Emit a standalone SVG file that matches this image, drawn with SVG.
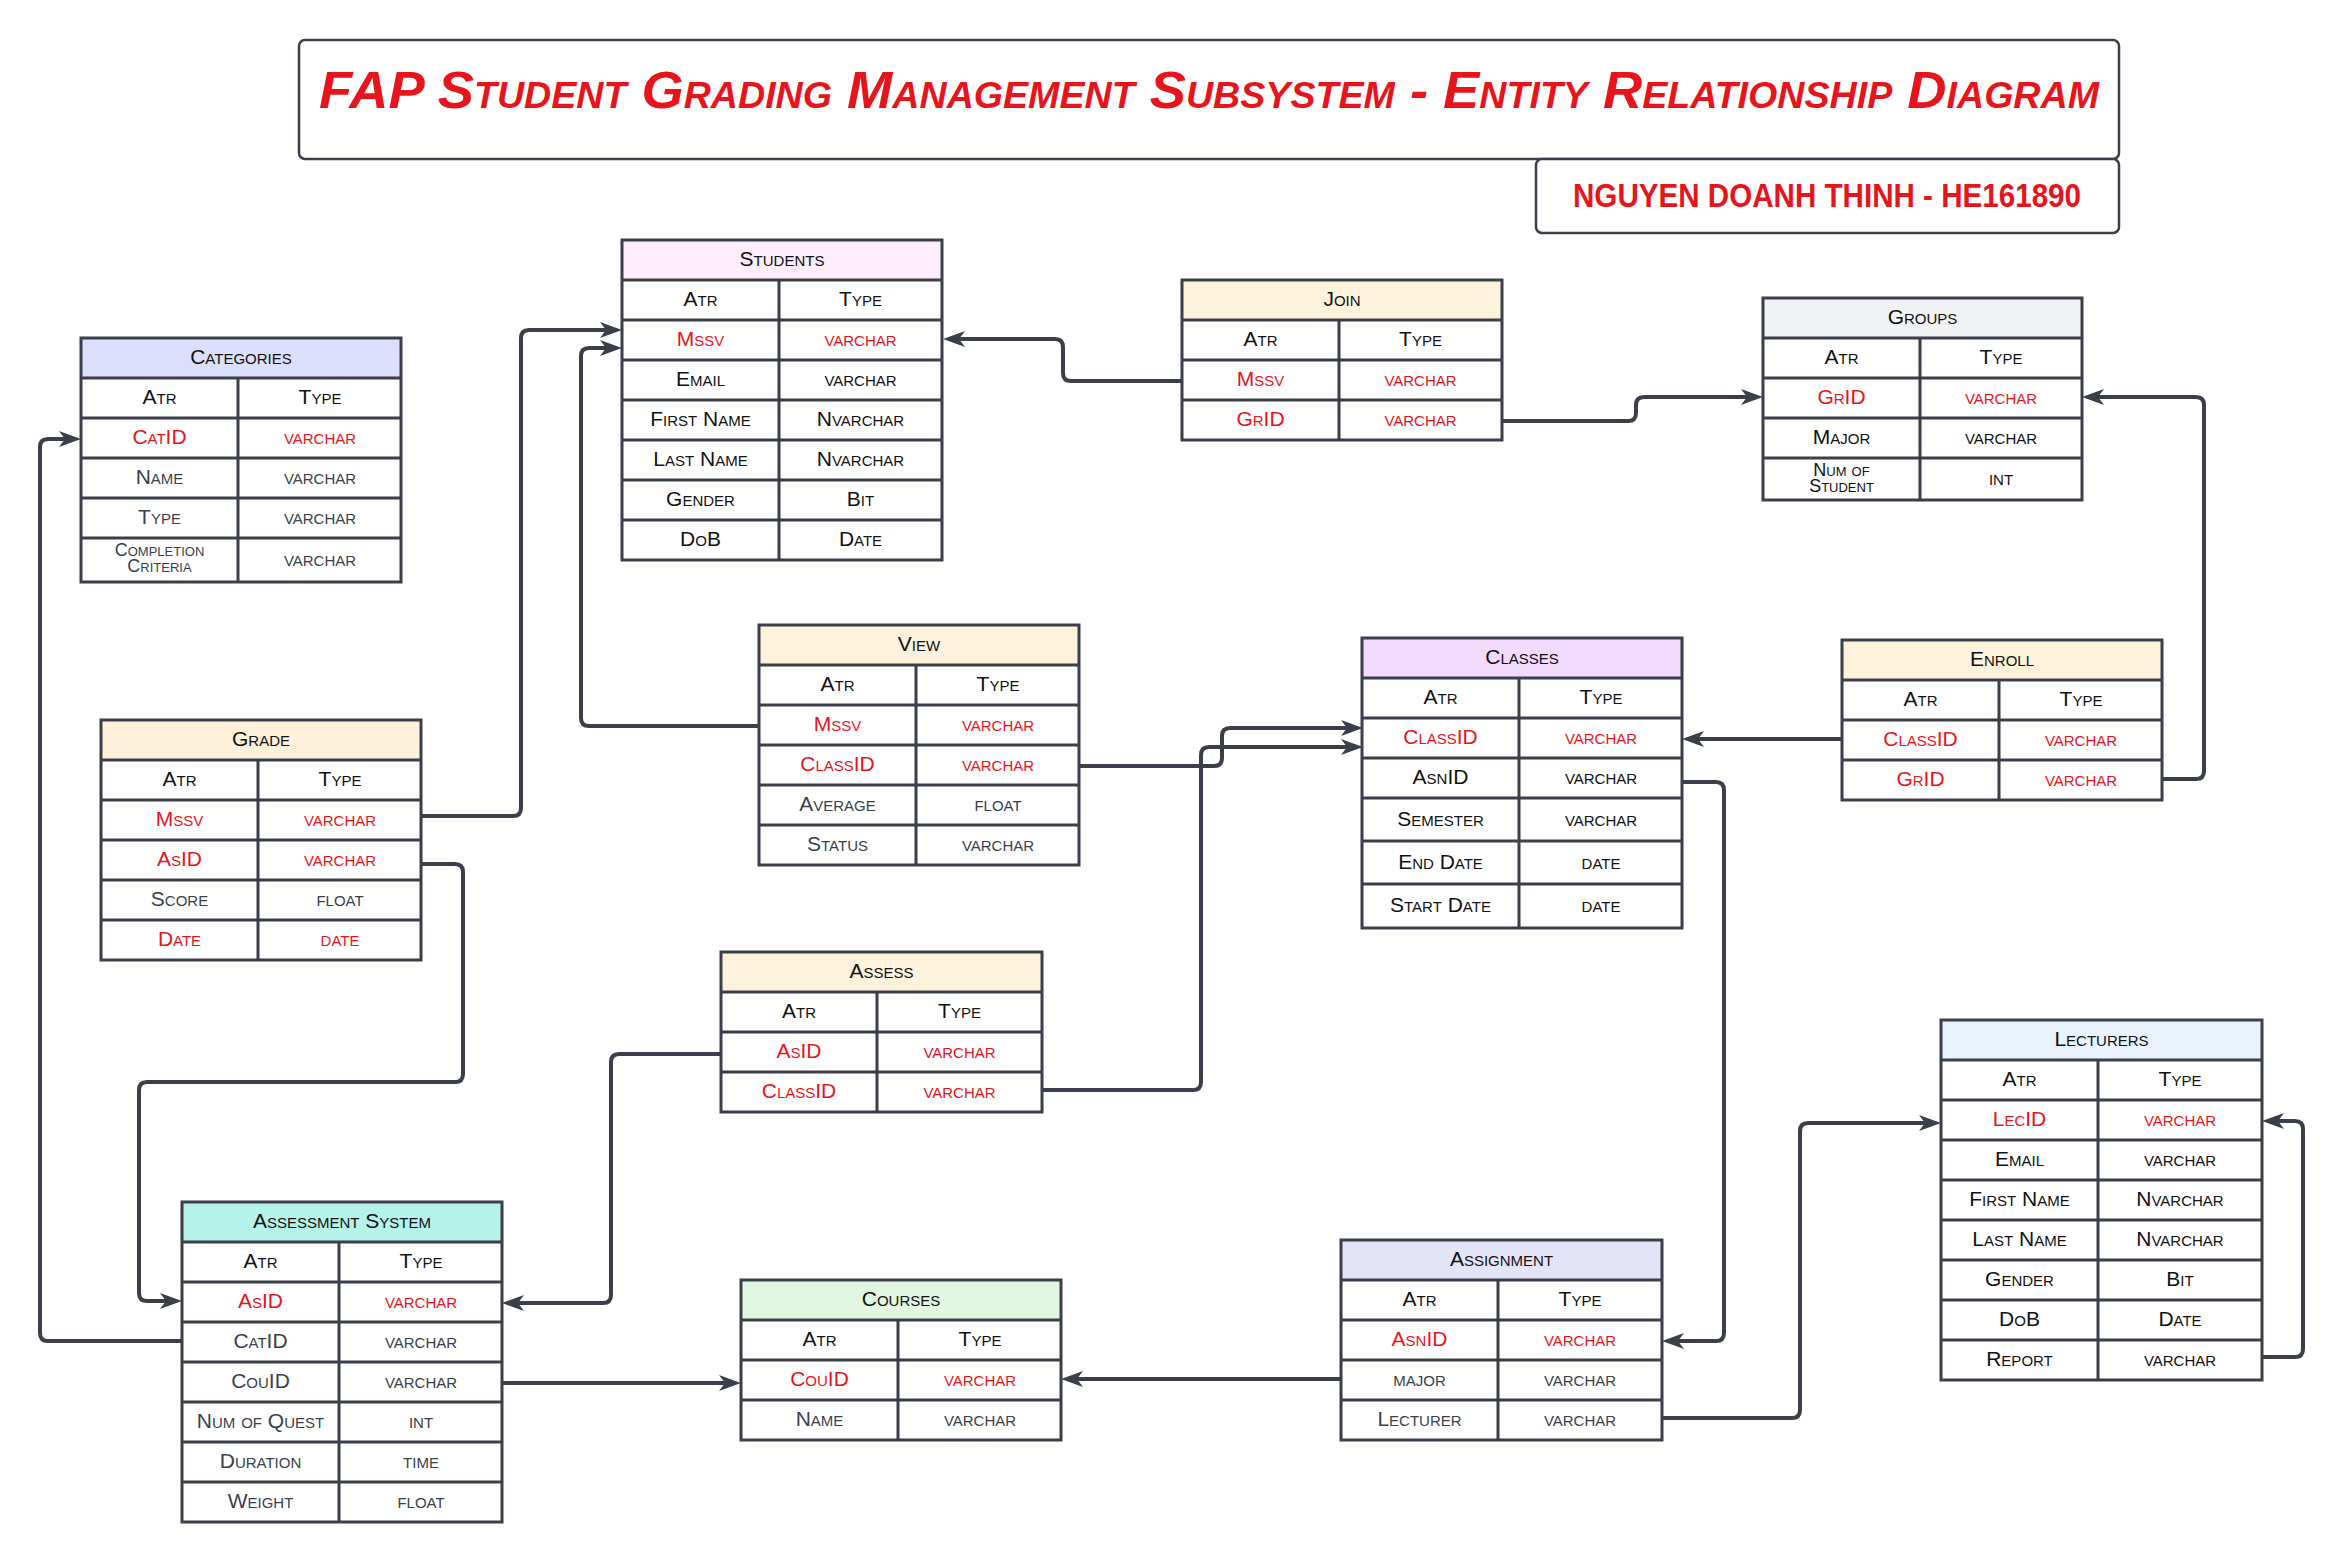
<svg xmlns="http://www.w3.org/2000/svg" width="2343" height="1562" viewBox="0 0 2343 1562">
<style>
.t{font-family:"Liberation Sans",Arial,sans-serif;font-variant:small-caps;font-size:21px;text-anchor:middle;transform:translateY(-1px)}
.s{font-size:18px}
.k{fill:#e8141c}
.b{fill:#111111}
.g{fill:#3a3f4a}
.box{fill:none;stroke:#3a3f4a;stroke-width:3}
.grid{fill:none;stroke:#3a3f4a;stroke-width:3}
.ln{fill:none;stroke:#3a3f4a;stroke-width:4;stroke-linejoin:round}
.ttl{fill:#fff;stroke:#3a3f4a;stroke-width:2.5}
</style>
<defs>
<marker id="arr" viewBox="0 0 22 16" markerWidth="22" markerHeight="16" refX="6" refY="8" orient="auto" markerUnits="userSpaceOnUse">
<path d="M0,0 L22,8 L0,16 L6,8 z" fill="#3a3f4a"/>
</marker>
</defs>
<rect width="2343" height="1562" fill="#ffffff"/>

<g id="title">
<rect x="299" y="40" width="1820" height="119" rx="6" class="ttl"/>
<text x="1209" y="108" font-family="'Liberation Sans',Arial,sans-serif" font-size="52" font-style="italic" font-weight="bold" font-variant="small-caps" fill="#e8141c" text-anchor="middle" textLength="1780" lengthAdjust="spacingAndGlyphs">FAP Student Grading Management Subsystem - Entity Relationship Diagram</text>
</g>
<g id="subtitle">
<rect x="1536" y="159" width="583" height="74" rx="6" class="ttl"/>
<text x="1827" y="207" font-family="'Liberation Sans',Arial,sans-serif" font-size="34" font-weight="bold" fill="#e8141c" text-anchor="middle" textLength="508" lengthAdjust="spacingAndGlyphs">NGUYEN DOANH THINH - HE161890</text>
</g>

<g id="connectors">
<path class="ln" marker-end="url(#arr)" d="M421,816 H513 Q521,816 521,808 V338 Q521,330 529,330 H606"/>
<path class="ln" marker-end="url(#arr)" d="M759,726 H589 Q581,726 581,718 V356 Q581,348 589,348 H606"/>
<path class="ln" marker-end="url(#arr)" d="M1182,381 H1071 Q1063,381 1063,373 V347 Q1063,339 1055,339 H959"/>
<path class="ln" marker-end="url(#arr)" d="M1502,421 H1628 Q1636,421 1636,413 V405 Q1636,397 1644,397 H1747"/>
<path class="ln" marker-end="url(#arr)" d="M2162,779 H2196 Q2204,779 2204,771 V405 Q2204,397 2196,397 H2098"/>
<path class="ln" marker-end="url(#arr)" d="M1842,739 H1698"/>
<path class="ln" marker-end="url(#arr)" d="M1079,766 H1214 Q1222,766 1222,758 V736 Q1222,728 1230,728 H1347"/>
<path class="ln" marker-end="url(#arr)" d="M1042,1090 H1193 Q1201,1090 1201,1082 V755 Q1201,747 1209,747 H1347"/>
<path class="ln" marker-end="url(#arr)" d="M1682,782 H1716 Q1724,782 1724,790 V1333 Q1724,1341 1716,1341 H1678"/>
<path class="ln" marker-end="url(#arr)" d="M1341,1379 H1077"/>
<path class="ln" marker-end="url(#arr)" d="M1662,1418 H1792 Q1800,1418 1800,1410 V1131 Q1800,1123 1808,1123 H1925"/>
<path class="ln" marker-end="url(#arr)" d="M2262,1357 H2295 Q2303,1357 2303,1349 V1129 Q2303,1121 2295,1121 H2278"/>
<path class="ln" marker-end="url(#arr)" d="M421,864 H455 Q463,864 463,872 V1074 Q463,1082 455,1082 H147 Q139,1082 139,1090 V1293 Q139,1301 147,1301 H166"/>
<path class="ln" marker-end="url(#arr)" d="M182,1341 H48 Q40,1341 40,1333 V447 Q40,439 48,439 H65"/>
<path class="ln" marker-end="url(#arr)" d="M721,1054 H619 Q611,1054 611,1062 V1295 Q611,1303 603,1303 H518"/>
<path class="ln" marker-end="url(#arr)" d="M502,1383 H725"/>
</g>

<g id="categories">
<rect x="81" y="338" width="320" height="244" fill="#fff"/>
<rect x="81" y="338" width="320" height="40" fill="#dcdffb"/>
<path class="grid" d="M81,378H401M81,418H401M81,458H401M81,498H401M81,538H401M238,378V582"/>
<rect x="81" y="338" width="320" height="244" class="box"/>
<text class="t b" x="241" y="365">Categories</text>
<text class="t b" x="159.5" y="405">Atr</text><text class="t b" x="320" y="405">Type</text>
<text class="t k" x="159.5" y="445">CatID</text><text class="t k" x="320" y="445">varchar</text>
<text class="t g" x="159.5" y="485">Name</text><text class="t g" x="320" y="485">varchar</text>
<text class="t g" x="159.5" y="525">Type</text><text class="t g" x="320" y="525">varchar</text>
<text class="t g s" x="159.5" y="557">Completion</text><text class="t g s" x="159.5" y="573">Criteria</text><text class="t g" x="320" y="567">varchar</text>
</g>

<g id="students">
<rect x="622" y="240" width="320" height="320" fill="#fff"/>
<rect x="622" y="240" width="320" height="40" fill="#fdeefa"/>
<path class="grid" d="M622,280H942M622,320H942M622,360H942M622,400H942M622,440H942M622,480H942M622,520H942M779,280V560"/>
<rect x="622" y="240" width="320" height="320" class="box"/>
<text class="t b" x="782" y="267">Students</text>
<text class="t b" x="700.5" y="307">Atr</text><text class="t b" x="860.5" y="307">Type</text>
<text class="t k" x="700.5" y="347">Mssv</text><text class="t k" x="860.5" y="347">varchar</text>
<text class="t b" x="700.5" y="387">Email</text><text class="t b" x="860.5" y="387">varchar</text>
<text class="t b" x="700.5" y="427">First Name</text><text class="t b" x="860.5" y="427">Nvarchar</text>
<text class="t b" x="700.5" y="467">Last Name</text><text class="t b" x="860.5" y="467">Nvarchar</text>
<text class="t b" x="700.5" y="507">Gender</text><text class="t b" x="860.5" y="507">Bit</text>
<text class="t b" x="700.5" y="547">DoB</text><text class="t b" x="860.5" y="547">Date</text>
</g>

<g id="join">
<rect x="1182" y="280" width="320" height="160" fill="#fff"/>
<rect x="1182" y="280" width="320" height="40" fill="#fdf3dc"/>
<path class="grid" d="M1182,320H1502M1182,360H1502M1182,400H1502M1339,320V440"/>
<rect x="1182" y="280" width="320" height="160" class="box"/>
<text class="t b" x="1342" y="307">Join</text>
<text class="t b" x="1260.5" y="347">Atr</text><text class="t b" x="1420.5" y="347">Type</text>
<text class="t k" x="1260.5" y="387">Mssv</text><text class="t k" x="1420.5" y="387">varchar</text>
<text class="t k" x="1260.5" y="427">GrID</text><text class="t k" x="1420.5" y="427">varchar</text>
</g>

<g id="groups">
<rect x="1763" y="298" width="319" height="202" fill="#fff"/>
<rect x="1763" y="298" width="319" height="40" fill="#f1f2f4"/>
<path class="grid" d="M1763,338H2082M1763,378H2082M1763,418H2082M1763,458H2082M1920,338V500"/>
<rect x="1763" y="298" width="319" height="202" class="box"/>
<text class="t b" x="1922.5" y="325">Groups</text>
<text class="t b" x="1841.5" y="365">Atr</text><text class="t b" x="2001" y="365">Type</text>
<text class="t k" x="1841.5" y="405">GrID</text><text class="t k" x="2001" y="405">varchar</text>
<text class="t b" x="1841.5" y="445">Major</text><text class="t b" x="2001" y="445">varchar</text>
<text class="t b s" x="1841.5" y="477">Num of</text><text class="t b s" x="1841.5" y="493">Student</text><text class="t b" x="2001" y="486">int</text>
</g>

<g id="grade">
<rect x="101" y="720" width="320" height="240" fill="#fff"/>
<rect x="101" y="720" width="320" height="40" fill="#fdf1dc"/>
<path class="grid" d="M101,760H421M101,800H421M101,840H421M101,880H421M101,920H421M258,760V960"/>
<rect x="101" y="720" width="320" height="240" class="box"/>
<text class="t b" x="261" y="747">Grade</text>
<text class="t b" x="179.5" y="787">Atr</text><text class="t b" x="340" y="787">Type</text>
<text class="t k" x="179.5" y="827">Mssv</text><text class="t k" x="340" y="827">varchar</text>
<text class="t k" x="179.5" y="867">AsID</text><text class="t k" x="340" y="867">varchar</text>
<text class="t g" x="179.5" y="907">Score</text><text class="t g" x="340" y="907">float</text>
<text class="t k" x="179.5" y="947">Date</text><text class="t k" x="340" y="947">date</text>
</g>

<g id="view">
<rect x="759" y="625" width="320" height="240" fill="#fff"/>
<rect x="759" y="625" width="320" height="40" fill="#fdf3dc"/>
<path class="grid" d="M759,665H1079M759,705H1079M759,745H1079M759,785H1079M759,825H1079M916,665V865"/>
<rect x="759" y="625" width="320" height="240" class="box"/>
<text class="t b" x="919" y="652">View</text>
<text class="t b" x="837.5" y="692">Atr</text><text class="t b" x="998" y="692">Type</text>
<text class="t k" x="837.5" y="732">Mssv</text><text class="t k" x="998" y="732">varchar</text>
<text class="t k" x="837.5" y="772">ClassID</text><text class="t k" x="998" y="772">varchar</text>
<text class="t g" x="837.5" y="812">Average</text><text class="t g" x="998" y="812">float</text>
<text class="t g" x="837.5" y="852">Status</text><text class="t g" x="998" y="852">varchar</text>
</g>

<g id="classes">
<rect x="1362" y="638" width="320" height="290" fill="#fff"/>
<rect x="1362" y="638" width="320" height="40" fill="#f2dafc"/>
<path class="grid" d="M1362,678H1682M1362,718H1682M1362,758H1682M1362,798H1682M1362,841H1682M1362,884H1682M1519,678V928"/>
<rect x="1362" y="638" width="320" height="290" class="box"/>
<text class="t b" x="1522" y="665">Classes</text>
<text class="t b" x="1440.5" y="705">Atr</text><text class="t b" x="1601" y="705">Type</text>
<text class="t k" x="1440.5" y="745">ClassID</text><text class="t k" x="1601" y="745">varchar</text>
<text class="t b" x="1440.5" y="785">AsnID</text><text class="t b" x="1601" y="785">varchar</text>
<text class="t b" x="1440.5" y="827">Semester</text><text class="t b" x="1601" y="827">varchar</text>
<text class="t b" x="1440.5" y="870">End Date</text><text class="t b" x="1601" y="870">date</text>
<text class="t b" x="1440.5" y="913">Start Date</text><text class="t b" x="1601" y="913">date</text>
</g>

<g id="enroll">
<rect x="1842" y="640" width="320" height="160" fill="#fff"/>
<rect x="1842" y="640" width="320" height="40" fill="#fdf3dc"/>
<path class="grid" d="M1842,680H2162M1842,720H2162M1842,760H2162M1999,680V800"/>
<rect x="1842" y="640" width="320" height="160" class="box"/>
<text class="t b" x="2002" y="667">Enroll</text>
<text class="t b" x="1920.5" y="707">Atr</text><text class="t b" x="2081" y="707">Type</text>
<text class="t k" x="1920.5" y="747">ClassID</text><text class="t k" x="2081" y="747">varchar</text>
<text class="t k" x="1920.5" y="787">GrID</text><text class="t k" x="2081" y="787">varchar</text>
</g>

<g id="assess">
<rect x="721" y="952" width="321" height="160" fill="#fff"/>
<rect x="721" y="952" width="321" height="40" fill="#fdf3dc"/>
<path class="grid" d="M721,992H1042M721,1032H1042M721,1072H1042M877,992V1112"/>
<rect x="721" y="952" width="321" height="160" class="box"/>
<text class="t b" x="881.5" y="979">Assess</text>
<text class="t b" x="799" y="1019">Atr</text><text class="t b" x="959.5" y="1019">Type</text>
<text class="t k" x="799" y="1059">AsID</text><text class="t k" x="959.5" y="1059">varchar</text>
<text class="t k" x="799" y="1099">ClassID</text><text class="t k" x="959.5" y="1099">varchar</text>
</g>

<g id="lecturers">
<rect x="1941" y="1020" width="321" height="360" fill="#fff"/>
<rect x="1941" y="1020" width="321" height="40" fill="#eaf3fd"/>
<path class="grid" d="M1941,1060H2262M1941,1100H2262M1941,1140H2262M1941,1180H2262M1941,1220H2262M1941,1260H2262M1941,1300H2262M1941,1340H2262M2098,1060V1380"/>
<rect x="1941" y="1020" width="321" height="360" class="box"/>
<text class="t b" x="2101.5" y="1047">Lecturers</text>
<text class="t b" x="2019.5" y="1087">Atr</text><text class="t b" x="2180" y="1087">Type</text>
<text class="t k" x="2019.5" y="1127">LecID</text><text class="t k" x="2180" y="1127">varchar</text>
<text class="t b" x="2019.5" y="1167">Email</text><text class="t b" x="2180" y="1167">varchar</text>
<text class="t b" x="2019.5" y="1207">First Name</text><text class="t b" x="2180" y="1207">Nvarchar</text>
<text class="t b" x="2019.5" y="1247">Last Name</text><text class="t b" x="2180" y="1247">Nvarchar</text>
<text class="t b" x="2019.5" y="1287">Gender</text><text class="t b" x="2180" y="1287">Bit</text>
<text class="t b" x="2019.5" y="1327">DoB</text><text class="t b" x="2180" y="1327">Date</text>
<text class="t b" x="2019.5" y="1367">Report</text><text class="t b" x="2180" y="1367">varchar</text>
</g>

<g id="assessment-system">
<rect x="182" y="1202" width="320" height="320" fill="#fff"/>
<rect x="182" y="1202" width="320" height="40" fill="#b4f2ea"/>
<path class="grid" d="M182,1242H502M182,1282H502M182,1322H502M182,1362H502M182,1402H502M182,1442H502M182,1482H502M339,1242V1522"/>
<rect x="182" y="1202" width="320" height="320" class="box"/>
<text class="t b" x="342" y="1229">Assessment System</text>
<text class="t b" x="260.5" y="1269">Atr</text><text class="t b" x="421" y="1269">Type</text>
<text class="t k" x="260.5" y="1309">AsID</text><text class="t k" x="421" y="1309">varchar</text>
<text class="t g" x="260.5" y="1349">CatID</text><text class="t g" x="421" y="1349">varchar</text>
<text class="t g" x="260.5" y="1389">CouID</text><text class="t g" x="421" y="1389">varchar</text>
<text class="t g" x="260.5" y="1429">Num of Quest</text><text class="t g" x="421" y="1429">int</text>
<text class="t g" x="260.5" y="1469">Duration</text><text class="t g" x="421" y="1469">time</text>
<text class="t g" x="260.5" y="1509">Weight</text><text class="t g" x="421" y="1509">float</text>
</g>

<g id="courses">
<rect x="741" y="1280" width="320" height="160" fill="#fff"/>
<rect x="741" y="1280" width="320" height="40" fill="#e2f7df"/>
<path class="grid" d="M741,1320H1061M741,1360H1061M741,1400H1061M898,1320V1440"/>
<rect x="741" y="1280" width="320" height="160" class="box"/>
<text class="t b" x="901" y="1307">Courses</text>
<text class="t b" x="819.5" y="1347">Atr</text><text class="t b" x="980" y="1347">Type</text>
<text class="t k" x="819.5" y="1387">CouID</text><text class="t k" x="980" y="1387">varchar</text>
<text class="t g" x="819.5" y="1427">Name</text><text class="t g" x="980" y="1427">varchar</text>
</g>

<g id="assignment">
<rect x="1341" y="1240" width="321" height="200" fill="#fff"/>
<rect x="1341" y="1240" width="321" height="40" fill="#e4e4f8"/>
<path class="grid" d="M1341,1280H1662M1341,1320H1662M1341,1360H1662M1341,1400H1662M1498,1280V1440"/>
<rect x="1341" y="1240" width="321" height="200" class="box"/>
<text class="t b" x="1501.5" y="1267">Assignment</text>
<text class="t b" x="1419.5" y="1307">Atr</text><text class="t b" x="1580" y="1307">Type</text>
<text class="t k" x="1419.5" y="1347">AsnID</text><text class="t k" x="1580" y="1347">varchar</text>
<text class="t g" x="1419.5" y="1387">major</text><text class="t g" x="1580" y="1387">varchar</text>
<text class="t g" x="1419.5" y="1427">Lecturer</text><text class="t g" x="1580" y="1427">varchar</text>
</g>
</svg>
